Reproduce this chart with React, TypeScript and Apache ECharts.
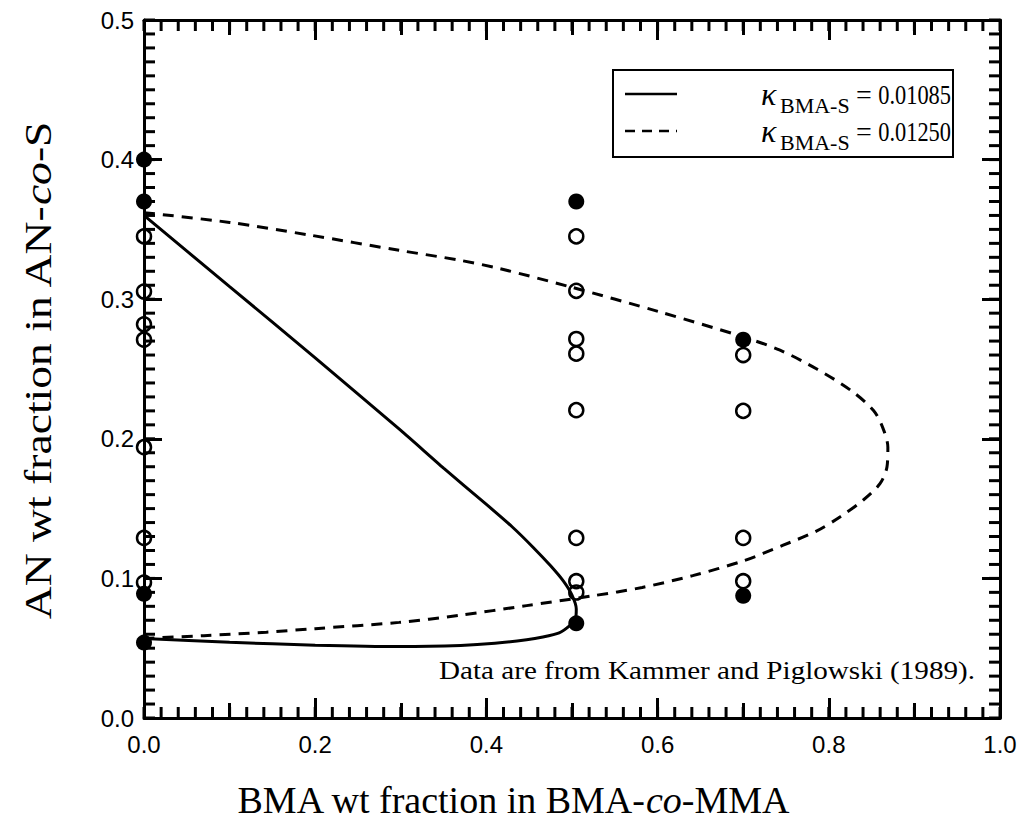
import React, { useEffect, useRef } from "react";
import * as echarts from "echarts";

// BMA weight fraction of each sample column
const bmaColumns = [0, 0.505, 0.7];
// AN weight fractions of the miscible (open) and immiscible (filled) blends, one list per column
const openAN = [
  [0.345, 0.3055, 0.282, 0.271, 0.194, 0.129, 0.097],
  [0.345, 0.306, 0.2715, 0.261, 0.2205, 0.129, 0.098, 0.0899],
  [0.26, 0.22, 0.129, 0.098],
];
const filledAN = [
  [0.4, 0.37, 0.089, 0.054],
  [0.37, 0.0678],
  [0.271, 0.0876],
];

// Miscibility boundary for kappa = 0.01085
const boundarySolid: [number, number][] = [
  [0, 0.36], [0.1, 0.309], [0.2, 0.258], [0.3, 0.206], [0.35, 0.179],
  [0.4, 0.153], [0.43, 0.137], [0.455, 0.122], [0.475, 0.109], [0.49, 0.098],
  [0.5, 0.088], [0.505, 0.078], [0.504, 0.071], [0.497, 0.066], [0.485, 0.061],
  [0.466, 0.058], [0.447, 0.056], [0.41, 0.0535], [0.37, 0.052], [0.3, 0.0512],
  [0.2, 0.0522], [0.1, 0.0542], [0, 0.057],
];
// Miscibility boundary for kappa = 0.01250
const boundaryDashed: [number, number][] = [
  [0, 0.362], [0.1, 0.355], [0.193, 0.346], [0.298, 0.335], [0.368, 0.328],
  [0.415, 0.322], [0.497, 0.309], [0.602, 0.291], [0.7, 0.273], [0.743, 0.2635],
  [0.786, 0.25], [0.825, 0.235], [0.852, 0.2205], [0.863, 0.208], [0.869, 0.194],
  [0.868, 0.18], [0.86, 0.168], [0.84, 0.156], [0.813, 0.144], [0.786, 0.134],
  [0.746, 0.1236], [0.7, 0.1125], [0.641, 0.102], [0.582, 0.0935], [0.524, 0.0875],
  [0.447, 0.0805], [0.368, 0.0735], [0.298, 0.0685], [0.2, 0.064], [0.143, 0.0615],
  [0.07, 0.059], [0, 0.057],
];

const legendLabels = ["0.01085", "0.01250"];

// Tick spacings: labelled and medium ticks go on axes, the fine ones are drawn as short marks
const xTickSteps = [0.2, 0.1];
const yTickStep = 0.1;
const xFineStep = 0.02;
const yFineStep = 0.01;

const SANS = '"Liberation Sans", Arial, sans-serif';
const SERIF = '"Liberation Serif", "Times New Roman", serif';
const black = "#000";

function toPoints(xs: number[], ys: number[][]): [number, number][] {
  const out: [number, number][] = [];
  xs.forEach((x, i) => ys[i].forEach((y) => out.push([x, y])));
  return out;
}

function stepValues(max: number, step: number): number[] {
  const n = Math.round(max / step);
  const out: number[] = [];
  for (let i = 0; i <= n; i++) out.push(+(i * step).toFixed(4));
  return out;
}

const tickLenX = [20, 15];
const FINE_LEN = 11;
const FINE_W = 3;

function xAxisDef(position: "top" | "bottom", level: number) {
  const main = level === 0;
  return {
    type: "value",
    position,
    min: 0,
    max: 1,
    interval: xTickSteps[level],
    axisLine: { show: main, onZero: false, lineStyle: { color: black, width: 3 } },
    axisTick: { show: true, inside: true, length: tickLenX[level], lineStyle: { color: black, width: 3 } },
    axisLabel: {
      show: main && position === "bottom",
      margin: 14,
      fontSize: 24,
      fontFamily: SANS,
      color: black,
      formatter: (v: number) => v.toFixed(1),
    },
    splitLine: { show: false },
  };
}

function yAxisDef(position: "left" | "right") {
  return {
    type: "value",
    position,
    min: 0,
    max: 0.5,
    interval: yTickStep,
    axisLine: { show: true, onZero: false, lineStyle: { color: black, width: 3 } },
    axisTick: { show: true, inside: true, length: 18, lineStyle: { color: black, width: 3 } },
    axisLabel: {
      show: position === "left",
      margin: 10,
      fontSize: 24,
      fontFamily: SANS,
      color: black,
      formatter: (v: number) => v.toFixed(1),
    },
    splitLine: { show: false },
  };
}

// Fine tick marks along one edge of the frame, placed through the axis scales
function fineTicks(values: number[], edge: "bottom" | "top" | "left" | "right") {
  const horizontal = edge === "bottom" || edge === "top";
  const data = values.map((v) =>
    edge === "bottom" ? [v, 0] : edge === "top" ? [v, 0.5] : edge === "left" ? [0, v] : [1, v]
  );
  const half = FINE_LEN / 2;
  const offset =
    edge === "bottom" ? [0, -half] : edge === "top" ? [0, half] : edge === "left" ? [half, 0] : [-half, 0];
  return {
    type: "scatter",
    name: "ticks-" + edge,
    xAxisIndex: 0,
    yAxisIndex: 0,
    clip: false,
    silent: true,
    z: 4,
    data,
    symbol: "rect",
    symbolSize: horizontal ? [FINE_W, FINE_LEN] : [FINE_LEN, FINE_W],
    symbolOffset: offset,
    itemStyle: { color: black, opacity: 1 },
  };
}

function legendRow(y: number, value: string, dashed: boolean) {
  return [
    {
      type: "line",
      shape: { x1: 625, y1: y, x2: 677, y2: y },
      style: { stroke: black, lineWidth: 2.5, lineDash: dashed ? [10, 7] : null },
    },
    {
      type: "text",
      x: 761,
      y: y,
      style: { text: "κ", font: `italic 32px ${SERIF}`, fill: black, align: "left", verticalAlign: "middle" },
    },
    {
      type: "text",
      x: 780,
      y: y + 11,
      style: { text: "BMA-S", font: `22px ${SERIF}`, fill: black, align: "left", verticalAlign: "middle" },
    },
    {
      type: "text",
      x: 856,
      y: y,
      style: { text: "=", font: `28px ${SERIF}`, fill: black, align: "left", verticalAlign: "middle" },
    },
    {
      type: "text",
      x: 951,
      y: y,
      scaleX: 0.8,
      style: { text: value, font: `28px ${SERIF}`, fill: black, align: "right", verticalAlign: "middle" },
    },
  ];
}

export default function App() {
  const ref = useRef<HTMLDivElement>(null);

  useEffect(() => {
    document.body.style.margin = "0";
    if (!ref.current) return;
    const chart = echarts.init(ref.current, null, { renderer: "svg" });

    const xFine = stepValues(1, xFineStep);
    const yFine = stepValues(0.5, yFineStep);

    const option = {
      animation: false,
      backgroundColor: "#fff",
      grid: { left: 144, right: 26, top: 20, bottom: 110, containLabel: false },
      xAxis: [
        xAxisDef("bottom", 0),
        xAxisDef("bottom", 1),
        xAxisDef("top", 0),
        xAxisDef("top", 1),
      ],
      yAxis: [yAxisDef("left"), yAxisDef("right")],
      series: [
        fineTicks(xFine, "bottom"),
        fineTicks(xFine, "top"),
        fineTicks(yFine, "left"),
        fineTicks(yFine, "right"),
        {
          type: "line",
          name: "kappa 0.01085",
          data: boundarySolid,
          xAxisIndex: 0,
          yAxisIndex: 0,
          showSymbol: false,
          smooth: 0.2,
          lineStyle: { color: black, width: 3 },
          z: 2,
        },
        {
          type: "line",
          name: "kappa 0.01250",
          data: boundaryDashed,
          xAxisIndex: 0,
          yAxisIndex: 0,
          showSymbol: false,
          smooth: 0.3,
          lineStyle: { color: black, width: 3, type: [11, 8] },
          z: 2,
        },
        {
          type: "scatter",
          name: "miscible",
          data: toPoints(bmaColumns, openAN),
          xAxisIndex: 0,
          yAxisIndex: 0,
          symbol: "circle",
          symbolSize: 14,
          clip: false,
          itemStyle: { color: "rgba(0,0,0,0)", borderColor: black, borderWidth: 2.5, opacity: 1 },
          z: 3,
        },
        {
          type: "scatter",
          name: "immiscible",
          data: toPoints(bmaColumns, filledAN),
          xAxisIndex: 0,
          yAxisIndex: 0,
          symbol: "circle",
          symbolSize: 16,
          clip: false,
          itemStyle: { color: black, opacity: 1 },
          z: 3,
        },
      ],
      graphic: [
        {
          type: "rect",
          shape: { x: 613, y: 70, width: 340, height: 87 },
          style: { fill: "#fff", stroke: black, lineWidth: 2 },
          z: 10,
        },
        ...legendRow(94, legendLabels[0], false).map((e) => ({ ...e, z: 11 })),
        ...legendRow(131, legendLabels[1], true).map((e) => ({ ...e, z: 11 })),
        {
          type: "text",
          x: 975,
          y: 670,
          scaleX: 1.12,
          style: {
            text: "Data are from Kammer and Piglowski (1989).",
            font: `26px ${SERIF}`,
            fill: black,
            align: "right",
            verticalAlign: "middle",
          },
        },
        {
          type: "text",
          x: 513,
          y: 800,
          style: {
            text: "BMA wt fraction in BMA-{i|co}-MMA",
            fontSize: 38,
            fontFamily: SERIF,
            fill: black,
            align: "center",
            verticalAlign: "middle",
            rich: { i: { fontSize: 38, fontFamily: SERIF, fontStyle: "italic", fill: black } },
          },
        },
        {
          type: "text",
          x: 38,
          y: 371,
          rotation: Math.PI / 2,
          scaleX: 1.2,
          style: {
            text: "AN wt fraction in AN-{i|co}-S",
            fontSize: 38,
            fontFamily: SERIF,
            fill: black,
            align: "center",
            verticalAlign: "middle",
            rich: { i: { fontSize: 38, fontFamily: SERIF, fontStyle: "italic", fill: black } },
          },
        },
      ],
    };

    chart.setOption(option as any);
    return () => chart.dispose();
  }, []);

  return <div ref={ref} style={{ width: 1026, height: 828 }} />;
}
